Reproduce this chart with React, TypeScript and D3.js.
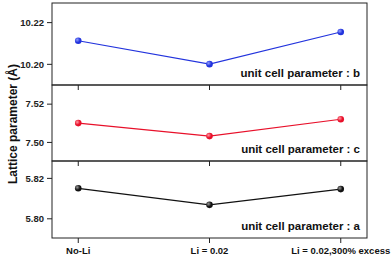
import React from "react";
import * as d3 from "d3";

const categories = ["No-Li", "Li = 0.02", "Li = 0.02,300% excess"];
const paramB = [10.2113, 10.2001, 10.2155];
const paramC = [7.5101, 7.5033, 7.5121];
const paramA = [5.8151, 5.8069, 5.8147];
const ticksB = [10.2, 10.22];
const ticksC = [7.5, 7.52];
const ticksA = [5.8, 5.82];
const labels = ["unit cell parameter : b", "unit cell parameter : c", "unit cell parameter : a"];

const W = 392, H = 257;
const left = 52, right = 367;
const bounds = [3, 85, 161, 238];

const panels = [
  { values: paramB, ticks: ticksB, domain: [10.1901, 10.2294], color: "#2233dd", light: "#8f9dff", label: labels[0] },
  { values: paramC, ticks: ticksC, domain: [7.4903, 7.530], color: "#e8102a", light: "#ff9aa5", label: labels[1] },
  { values: paramA, ticks: ticksA, domain: [5.7905, 5.8286], color: "#111111", light: "#9a9a9a", label: labels[2] },
];

export default function App() {
  const x = d3.scaleLinear().domain([-0.2, 2.2]).range([left, right]);
  const font = "Arial, 'Liberation Sans', sans-serif";
  return (
    <svg width={W} height={H} style={{ position: "absolute", left: 0, top: 0 }}>
      <defs>
        {panels.map((p, i) => (
          <radialGradient key={i} id={`g${i}`} cx="0.35" cy="0.35" r="0.7">
            <stop offset="0" stopColor={p.light} />
            <stop offset="0.6" stopColor={p.color} />
          </radialGradient>
        ))}
      </defs>
      <rect width={W} height={H} fill="#fff" />
      {panels.map((p, i) => {
        const y0 = bounds[i], y1 = bounds[i + 1];
        const y = d3.scaleLinear().domain(p.domain).range([y1, y0]);
        const line = d3.line<number>().x((_, j) => x(j)).y((d) => y(d));
        return (
          <g key={i}>
            {p.ticks.map((t) => (
              <g key={t}>
                <line x1={left - 5} x2={left} y1={y(t)} y2={y(t)} stroke="#222" strokeWidth={1} />
                <text x={left - 8} y={y(t)} dy="0.35em" textAnchor="end" fontFamily={font} fontWeight="bold" fontSize={9.5} fill="#222">
                  {t.toFixed(2)}
                </text>
              </g>
            ))}
            {categories.map((_, j) => (
              <line key={j} x1={x(j)} x2={x(j)} y1={y1} y2={y1 + 5} stroke="#222" strokeWidth={1} />
            ))}
            <path d={line(p.values) || ""} fill="none" stroke={p.color} strokeWidth={1.2} />
            {p.values.map((v, j) => (
              <circle key={j} cx={x(j)} cy={y(v)} r={3.3} fill={`url(#g${i})`} />
            ))}
            <text x={360} y={y1 - 8} textAnchor="end" fontFamily={font} fontWeight="bold" fontSize={11.5} fill="#111">
              {p.label}
            </text>
            <rect x={left} y={y0} width={right - left} height={y1 - y0} fill="none" stroke="#222" strokeWidth={1} />
          </g>
        );
      })}
      {categories.map((c, j) => (
        <text key={c} x={x(j)} y={254} textAnchor="middle" fontFamily={font} fontWeight="bold" fontSize={9.5} fill="#111">
          {c}
        </text>
      ))}
      <text transform={`translate(17,124) rotate(-90)`} textAnchor="middle" fontFamily={font} fontWeight="bold" fontSize={12} fill="#111">
        Lattice parameter (Å)
      </text>
    </svg>
  );
}
